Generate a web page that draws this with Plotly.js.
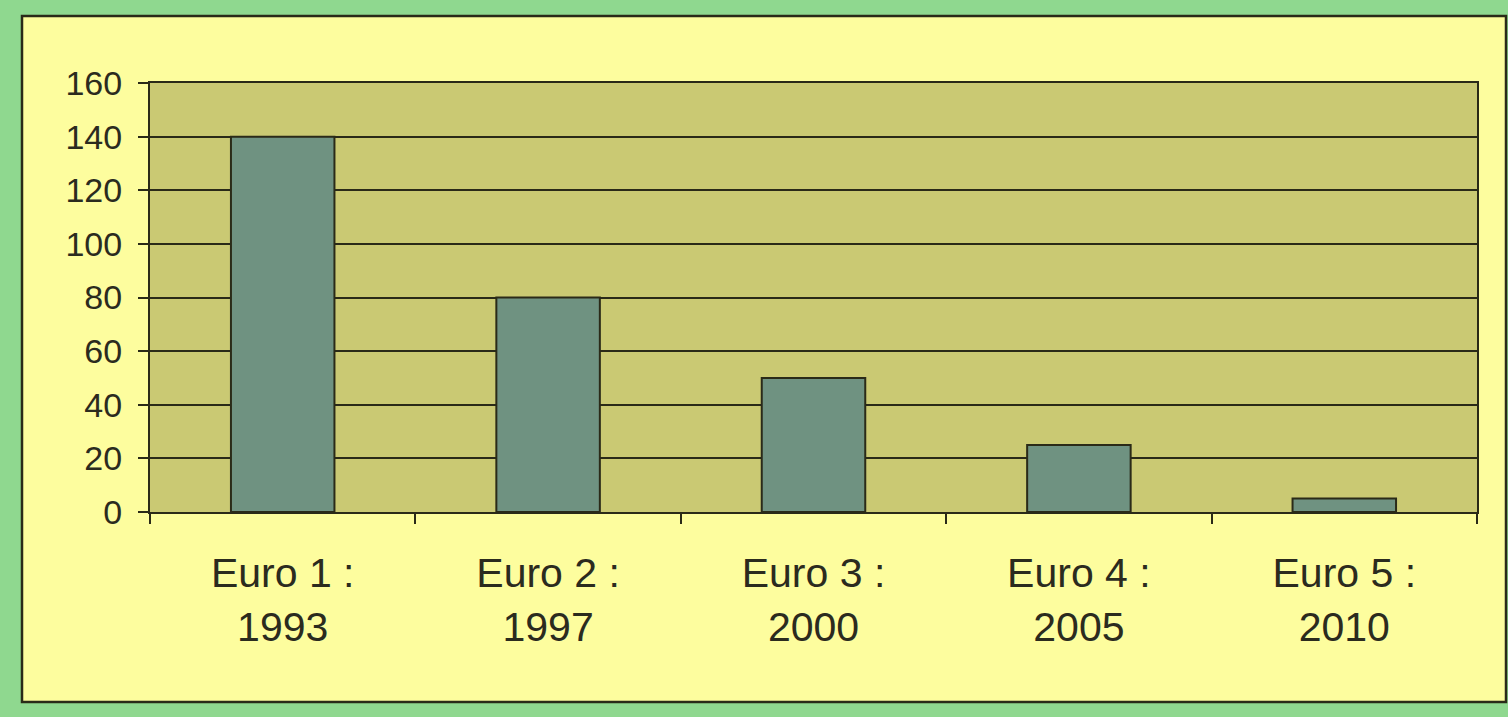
<!DOCTYPE html>
<html>
<head>
<meta charset="utf-8">
<script src="https://cdn.plot.ly/plotly-3.0.1.min.js"></script>
<style>
html,body{margin:0;padding:0;background:#8fd88f;}
#chart{width:1508px;height:717px;}
</style>
</head>
<body>
<div id="chart"></div>
<script>
const categories = ["Euro 1 :<br>1993", "Euro 2 :<br>1997", "Euro 3 :<br>2000", "Euro 4 :<br>2005", "Euro 5 :<br>2010"];
const values = [140, 80, 50, 25, 5];
const yTicks = [0, 20, 40, 60, 80, 100, 120, 140, 160];

const W = 1508, H = 717;
const mL = 150, mR = 31, mT = 83, mB = 205;
const pw = W - mL - mR, ph = H - mT - mB;
function px2x(p){ return (p - mL) / pw; }
function px2y(p){ return (H - mB - p) / ph; }

const trace = {
  type: 'bar',
  x: categories,
  y: values,
  marker: { color: '#6f9281', line: { color: '#2a2a18', width: 2 } },
  hoverinfo: 'x+y'
};

const axisColor = '#2a2a18';
const layout = {
  width: W, height: H,
  margin: { l: mL, r: mR, t: mT, b: mB, pad: 0 },
  paper_bgcolor: '#8fd88f',
  plot_bgcolor: 'rgba(0,0,0,0)',
  showlegend: false,
  bargap: 0.61,
  font: { family: 'Liberation Sans, Arial, sans-serif', color: '#2b2b1e' },
  xaxis: {
    type: 'category',
    showline: true, mirror: true, linecolor: axisColor, linewidth: 2,
    ticks: 'outside', tickson: 'boundaries', ticklen: 10, tickwidth: 2, tickcolor: axisColor,
    showgrid: false,
    tickfont: { size: 41, color: '#2b2b1e' },
    ticklabelstandoff: 24
  },
  yaxis: {
    range: [0, 160],
    tickvals: yTicks,
    ticktext: yTicks.map(String),
    showline: true, mirror: true, linecolor: axisColor, linewidth: 2,
    ticks: 'outside', ticklen: 10, tickwidth: 2, tickcolor: axisColor,
    showgrid: true, gridcolor: axisColor, gridwidth: 2,
    zeroline: false,
    tickfont: { size: 34, color: '#2b2b1e' },
    ticklabelstandoff: 9
  },
  shapes: [
    { type: 'rect', xref: 'paper', yref: 'paper', layer: 'below',
      x0: px2x(22), x1: px2x(1506), y0: px2y(702), y1: px2y(16),
      fillcolor: '#fdfd9e', line: { color: '#2a2a18', width: 2.5 } },
    { type: 'rect', xref: 'paper', yref: 'paper', layer: 'below',
      x0: 0, x1: 1, y0: 0, y1: 1,
      fillcolor: '#cac973', line: { width: 0 } }
  ]
};

Plotly.newPlot('chart', [trace], layout, { displayModeBar: false, staticPlot: true });
</script>
</body>
</html>
